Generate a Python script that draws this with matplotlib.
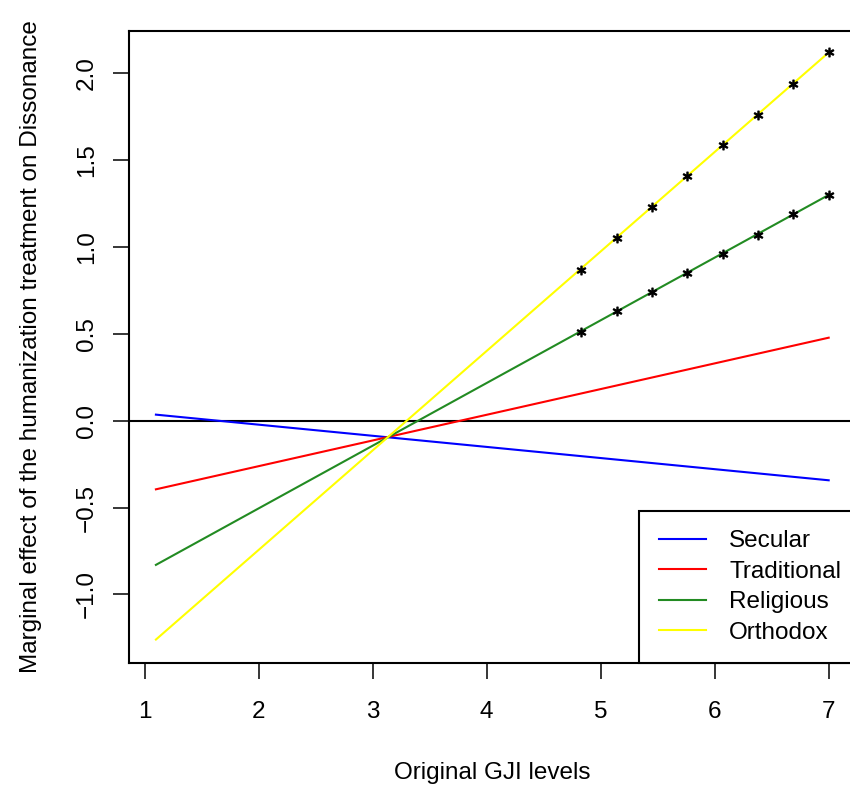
import numpy as np
import matplotlib
matplotlib.use('Agg')
import matplotlib.pyplot as plt

plt.rcParams['font.family'] = ['Liberation Sans', 'DejaVu Sans']

# GJI range covered by each marginal-effect line
gji = [1.1, 7.0]
secular = [0.035, -0.343]
traditional = [-0.395, 0.478]
religious = [-0.83, 1.30]
orthodox = [-1.26, 2.12]

# points where the effect is significant
sig_gji = [4.83, 5.14, 5.45, 5.76, 6.07, 6.38, 6.69, 7.0]
sig_religious = [0.51, 0.63, 0.74, 0.85, 0.96, 1.07, 1.19, 1.30]
sig_orthodox = [0.87, 1.05, 1.23, 1.41, 1.59, 1.76, 1.94, 2.12]

groups = ['Secular', 'Traditional', 'Religious', 'Orthodox']
colors = ['#0000FF', '#FF0000', '#228B22', '#FFFF00']

fig = plt.figure(figsize=(8.5, 7.91), dpi=100)
ax = fig.add_axes([129.0 / 850, 127.9 / 791, 726.6 / 850, 632.4 / 791])

for vals, name, col in zip([secular, traditional, religious, orthodox], groups, colors):
    ax.plot(gji, vals, color=col, lw=1.5, label=name)

ax.axhline(0, color='black', lw=1.5, zorder=1)

for vals in [sig_orthodox, sig_religious]:
    ax.plot(sig_gji, vals, ls='none', marker='$*$', ms=6.2, color='black')

ax.set_xlim(0.864, 7.236)
ax.set_ylim(-1.3955, 2.2455)
ax.set_xticks(np.arange(1, 8))
ax.set_yticks([-1.0, -0.5, 0.0, 0.5, 1.0, 1.5, 2.0])
ax.set_yticklabels(['\u22121.0', '\u22120.5', '0.0', '0.5', '1.0', '1.5', '2.0'])

ax.tick_params(axis='both', direction='out', length=11.5, width=1.1, labelsize=17.5)
ax.tick_params(axis='x', pad=16)
ax.tick_params(axis='y', pad=11, labelrotation=90)
for lab in ax.get_yticklabels():
    lab.set_va('center')

for sp in ax.spines.values():
    sp.set_linewidth(1.5)

ax.set_xlabel('Original GJI levels', fontsize=17.5, labelpad=28)
ax.set_ylabel('Marginal effect of the humanization treatment on Dissonance',
              fontsize=17.5, labelpad=24)

# legend sits in the bottom-right corner, its right edge past the plot region
leg = ax.legend(loc='lower right', bbox_to_anchor=(1.007, 0), borderaxespad=0,
                fontsize=17.5, fancybox=False, framealpha=1, edgecolor='black',
                handlelength=1.95, handletextpad=0.95, labelspacing=0.35,
                borderpad=0.8)
leg.get_frame().set_linewidth(1.5)

fig.savefig('out.png', dpi=100, facecolor='white')
